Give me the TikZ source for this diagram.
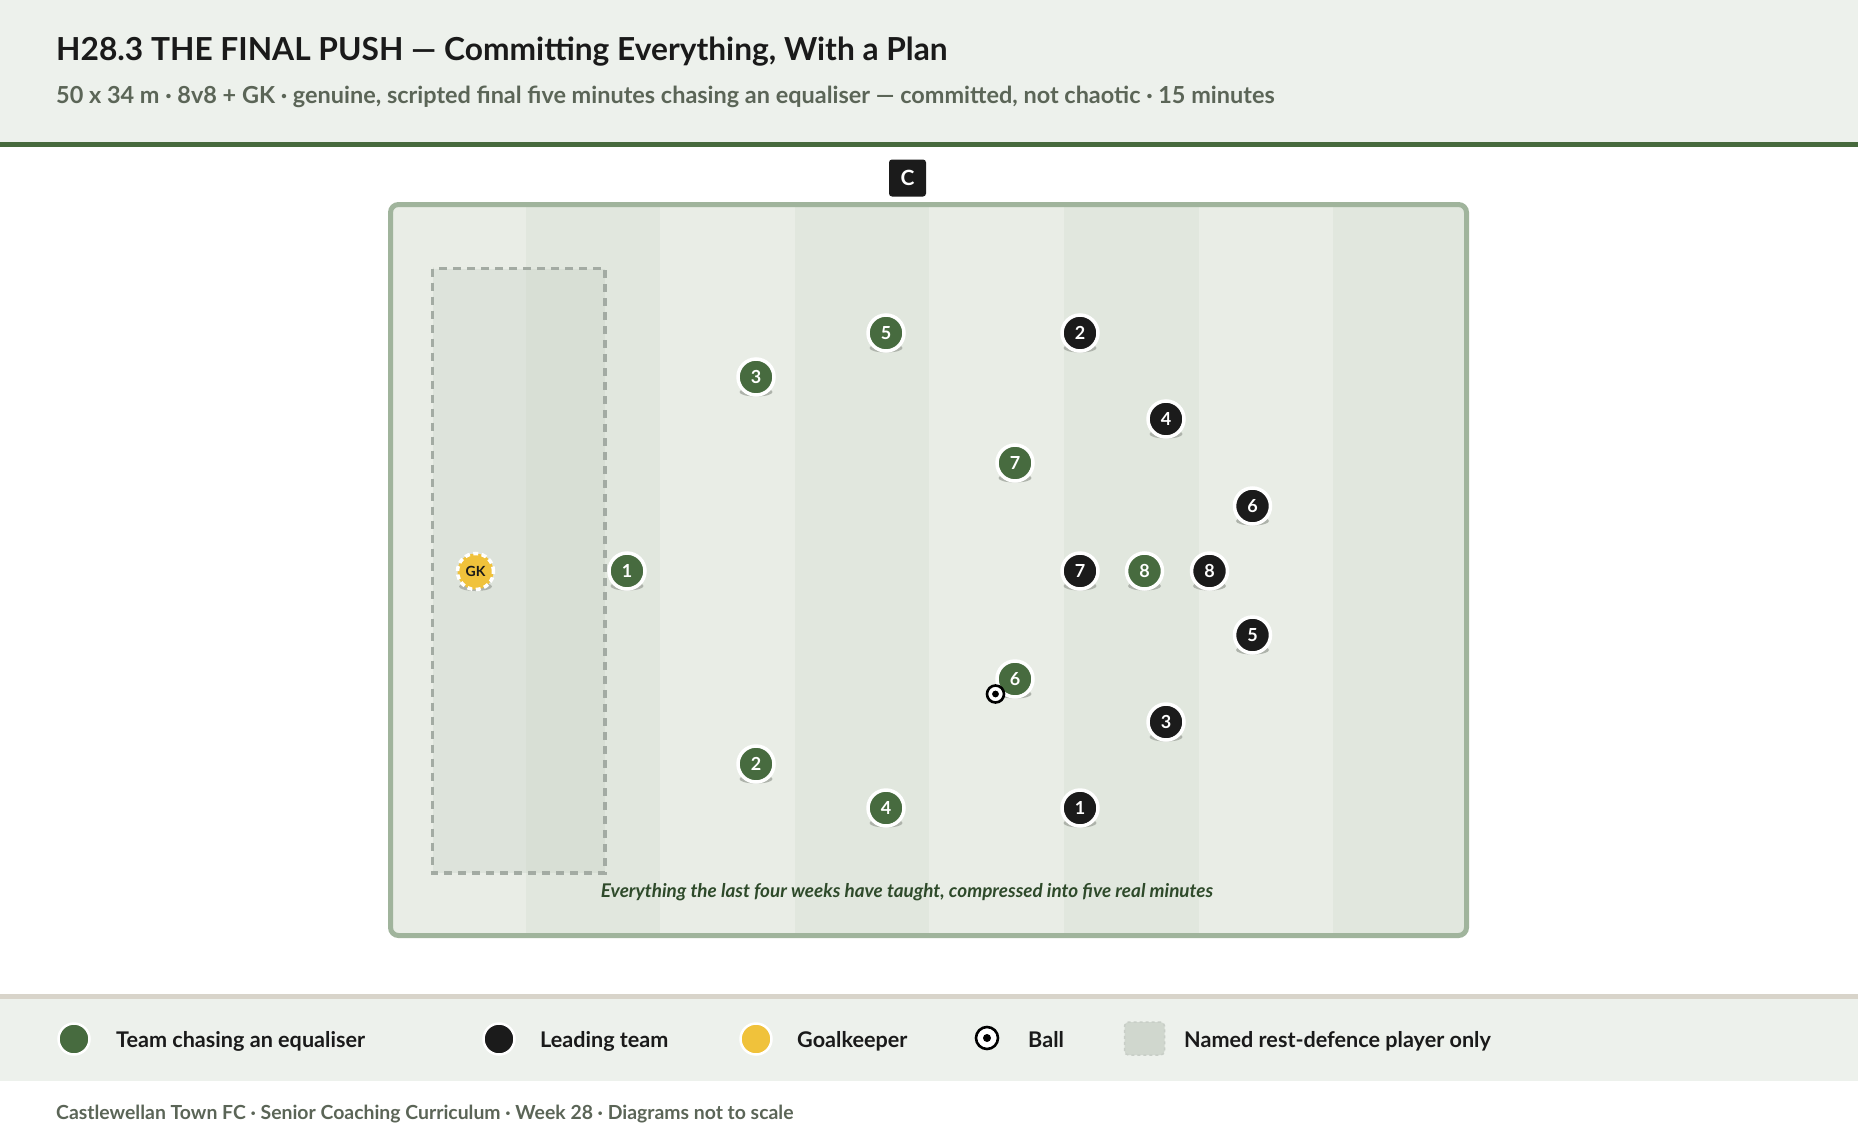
\documentclass[tikz,border=0pt]{standalone}
\usepackage{fontspec}
\setmainfont{Lato}
\definecolor{headbg}{HTML}{EDF1EC}
\definecolor{headline}{HTML}{476A3D}
\definecolor{pitchborder}{HTML}{A0B49C}
\definecolor{stripeA}{HTML}{E9EDE6}
\definecolor{stripeB}{HTML}{E1E7DE}
\definecolor{restdash}{HTML}{A3ABA3}
\definecolor{restfill}{HTML}{C9D1C7}
\definecolor{greenp}{HTML}{476B3F}
\definecolor{blackp}{HTML}{1B1B1B}
\definecolor{gkc}{HTML}{F0C23B}
\definecolor{captionc}{HTML}{2E4A2A}
\definecolor{subc}{HTML}{5B6557}
\definecolor{legsep}{HTML}{D8D4CA}
\definecolor{shadowc}{HTML}{AEB3AB}
\definecolor{titlec}{HTML}{1A1A1A}
\newcommand\pxsize[1]{\fontsize{#1}{#1}\selectfont}
\newcommand\playertok[5]{%
  \fill[shadowc] (#3,#4+15) ellipse [x radius=16.5pt, y radius=4.5pt];
  \node[#2] (#1) at (#3,#4) {#5};
}
\begin{document}
\begin{tikzpicture}[x=1pt,y=-1pt,
  greentok/.style={circle, fill=greenp, draw=white, line width=3.5pt, minimum size=36pt, inner sep=0pt, text=white, font=\bfseries\pxsize{18}},
  blacktok/.style={greentok, fill=blackp},
  gktok/.style={circle, fill=gkc, draw=white, dash pattern=on 5pt off 3.5pt, line width=3.5pt, minimum size=36pt, inner sep=0pt, text=titlec, font=\bfseries\pxsize{14}},
  balltok/.style={circle, fill=white, draw=black, line width=2.6pt, minimum size=17pt, inner sep=0pt},
  legcirc/.style={circle, draw=white, line width=2.5pt, minimum size=31pt, inner sep=0pt},
  legtext/.style={anchor=base west, inner sep=0pt, text=titlec, font=\bfseries\pxsize{21.6}},
]
\useasboundingbox (0,0) rectangle (1858,1138);
\fill[white] (0,0) rectangle (1858,1138);
% header
\fill[headbg] (0,0) rectangle (1858,142);
\fill[headline] (0,142) rectangle (1858,147);
\node[anchor=base west, inner sep=0pt, text=titlec, font=\bfseries\pxsize{31.7}] (title) at (56,60) {H28.3 THE FINAL PUSH — Committing Everything, With a Plan};
\node[anchor=base west, inner sep=0pt, text=subc, font=\bfseries\pxsize{23.45}] (subtitle) at (56,103.5) {50 x 34 m · 8v8 + GK · genuine, scripted final five minutes chasing an equaliser — committed, not chaotic · 15 minutes};
% coach
\node[fill=blackp, rounded corners=3pt, minimum size=37pt, inner sep=0pt, text=white, font=\bfseries\pxsize{21}] (coach) at (907.5,178) {C};
% pitch
\fill[stripeA, rounded corners=8pt] (390.5,204.5) rectangle (1466.5,935.5);
\begin{scope}
  \clip[rounded corners=8pt] (390.5,204.5) rectangle (1466.5,935.5);
  \foreach \i in {1,3,5,7} {
    \fill[stripeB] (391+\i*134.6,200) rectangle (391+\i*134.6+134.6,940);
  }
\end{scope}
\draw[pitchborder, line width=5pt, rounded corners=8pt] (390.5,204.5) rectangle (1466.5,935.5);
% rest-defence zone
\fill[restfill, opacity=0.35] (432.5,268.5) rectangle (605,873);
\draw[restdash, line width=3.5pt, dash pattern=on 8pt off 6pt] (432.5,268.5) rectangle (605,873);
% players - chasing team (green)
\playertok{g1}{greentok}{627}{571}{1}
\playertok{g2}{greentok}{756}{764}{2}
\playertok{g3}{greentok}{756}{377}{3}
\playertok{g4}{greentok}{886}{808}{4}
\playertok{g5}{greentok}{886}{333}{5}
\playertok{g6}{greentok}{1015}{679}{6}
\playertok{g7}{greentok}{1015}{463}{7}
\playertok{g8}{greentok}{1144.5}{571}{8}
% leading team
\playertok{b1}{blacktok}{1080}{808}{1}
\playertok{b2}{blacktok}{1080}{333}{2}
\playertok{b3}{blacktok}{1166}{722}{3}
\playertok{b4}{blacktok}{1166}{419}{4}
\playertok{b5}{blacktok}{1252.5}{635}{5}
\playertok{b6}{blacktok}{1252.5}{506}{6}
\playertok{b7}{blacktok}{1080}{571}{7}
\playertok{b8}{blacktok}{1209.5}{571}{8}
% goalkeeper
\playertok{gk}{gktok}{475.5}{571.5}{GK}
% ball
\node[balltok] (ball) at (995.5,694) {};
\fill[black] (ball.center) circle [radius=3.4pt];
% caption
\node[anchor=base, inner sep=0pt, text=captionc, font=\bfseries\itshape\pxsize{18.9}] (caption) at (907,897) {Everything the last four weeks have taught, compressed into five real minutes};
% legend band
\fill[legsep] (0,994) rectangle (1858,998.5);
\fill[headbg] (0,998.5) rectangle (1858,1081);
\node[legcirc, fill=greenp] (lg1) at (74,1039) {};
\node[legtext] (lt1) at (116,1047) {Team chasing an equaliser};
\node[legcirc, fill=blackp] (lg2) at (499,1039) {};
\node[legtext] (lt2) at (540,1047) {Leading team};
\node[legcirc, fill=gkc] (lg3) at (756,1039) {};
\node[legtext] (lt3) at (797,1047) {Goalkeeper};
\node[circle, fill=white, draw=black, line width=2.6pt, minimum size=22pt, inner sep=0pt] (lg4) at (987,1038) {};
\fill[black] (lg4.center) circle [radius=4pt];
\node[legtext] (lt4) at (1028,1047) {Ball};
\node[fill=restfill!80!headbg, draw=restdash!50!headbg, dashed, line width=1.5pt, rounded corners=4pt, minimum width=40pt, minimum height=33pt, inner sep=0pt] (lg5) at (1144.5,1038.5) {};
\node[legtext] (lt5) at (1184,1047) {Named rest-defence player only};
% footer
\node[anchor=base west, inner sep=0pt, text=subc, font=\bfseries\pxsize{19.4}] (footer) at (56,1119) {Castlewellan Town FC · Senior Coaching Curriculum · Week 28 · Diagrams not to scale};
\end{tikzpicture}
\end{document}
